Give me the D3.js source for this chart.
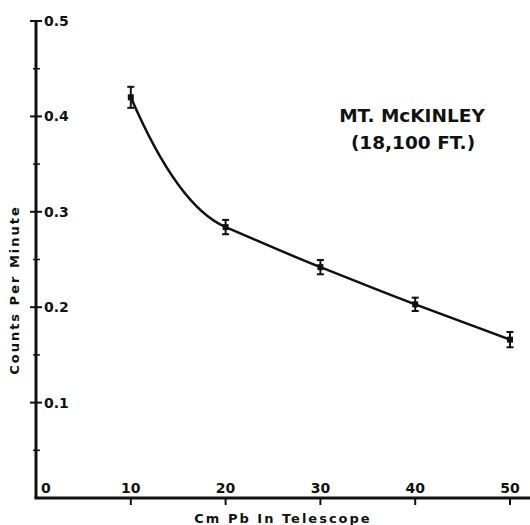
<!DOCTYPE html>
<meta charset="utf-8">
<style>
body { margin: 0; background: #fff; }
svg { display: block; }
text { font-family: "DejaVu Sans", sans-serif; font-weight: bold; fill: #111; }
</style>
<svg width="530" height="525"></svg>
<script src="https://d3js.org/d3.v7.min.js"></script>
<script>
// thickness of lead (cm) and measured rate
var thickness = [10, 20, 30, 40, 50];
var counts = [0.420, 0.284, 0.242, 0.203, 0.166];
var errors = [0.011, 0.0075, 0.0075, 0.007, 0.008];

var xTicks = [0, 10, 20, 30, 40, 50];
var yTicks = [0.1, 0.2, 0.3, 0.4, 0.5];
var yMinor = [0.05, 0.15, 0.25, 0.35, 0.45];

var svg = d3.select("svg");

var x = d3.scaleLinear().domain([0, 50]).range([36, 510]);
var y = d3.scaleLinear().domain([0, 0.5]).range([498, 21]);

// axes lines
svg.append("line")
  .attr("x1", x(0) - 1.5).attr("x2", 530)
  .attr("y1", y(0)).attr("y2", y(0))
  .attr("stroke", "#111").attr("stroke-width", 3);
svg.append("line")
  .attr("x1", x(0)).attr("x2", x(0))
  .attr("y1", y(0.5)).attr("y2", y(0))
  .attr("stroke", "#111").attr("stroke-width", 3);

// y ticks (cross the axis)
svg.selectAll(".ytick")
  .data(yTicks)
  .enter().append("line")
  .attr("x1", x(0) - 6).attr("x2", x(0) + 6)
  .attr("y1", function(d) { return y(d); })
  .attr("y2", function(d) { return y(d); })
  .attr("stroke", "#111").attr("stroke-width", 2);

svg.selectAll(".yminor")
  .data(yMinor)
  .enter().append("line")
  .attr("x1", x(0) - 3).attr("x2", x(0) + 4)
  .attr("y1", function(d) { return y(d); })
  .attr("y2", function(d) { return y(d); })
  .attr("stroke", "#111").attr("stroke-width", 1.5);

svg.selectAll(".ylab")
  .data(yTicks)
  .enter().append("text")
  .attr("x", x(0) + 8)
  .attr("y", function(d) { return y(d); })
  .attr("dy", "0.36em")
  .attr("font-size", 14)
  .text(function(d) { return d3.format(".1f")(d); });

// x ticks below axis
svg.selectAll(".xtick")
  .data(xTicks.slice(1))
  .enter().append("line")
  .attr("x1", function(d) { return x(d); })
  .attr("x2", function(d) { return x(d); })
  .attr("y1", y(0)).attr("y2", y(0) + 7)
  .attr("stroke", "#111").attr("stroke-width", 2);

svg.selectAll(".xlab")
  .data(xTicks)
  .enter().append("text")
  .attr("x", function(d) { return d == 0 ? x(0) + 5 : x(d); })
  .attr("y", y(0) - 5)
  .attr("text-anchor", function(d) { return d == 0 ? "start" : "middle"; })
  .attr("font-size", 14)
  .text(function(d) { return d; });

// axis titles
svg.append("text")
  .attr("x", 283).attr("y", 523)
  .attr("text-anchor", "middle")
  .attr("font-size", 13)
  .attr("letter-spacing", 2)
  .text("Cm Pb  In Telescope");

svg.append("text")
  .attr("transform", "translate(19,290) rotate(-90)")
  .attr("text-anchor", "middle")
  .attr("font-size", 13)
  .attr("letter-spacing", 2)
  .text("Counts  Per  Minute");

// label
svg.append("text")
  .attr("x", 412).attr("y", 122)
  .attr("text-anchor", "middle")
  .attr("font-size", 18.5)
  .text("MT. McKINLEY");
svg.append("text")
  .attr("x", 413).attr("y", 149)
  .attr("text-anchor", "middle")
  .attr("font-size", 18.5)
  .text("(18,100 FT.)");

var data = thickness.map(function(t, i) { return {t: t, c: counts[i], e: errors[i]}; });

// smooth hand-drawn style curve: cubic hermite, tangent at each point is the
// slope toward the next point, the first one chosen so the first span bends
var pts = data.map(function(d) { return [x(d.t), y(d.c)]; });
var sec = d3.range(pts.length - 1).map(function(i) {
  return (pts[i + 1][1] - pts[i][1]) / (pts[i + 1][0] - pts[i][0]);
});
var tan = pts.map(function(p, i) {
  if (i == 0) return 2 * sec[0] - sec[1];
  return i < sec.length ? sec[i] : sec[sec.length - 1];
});
var path = d3.path();
path.moveTo(pts[0][0], pts[0][1]);
for (var i = 0; i < pts.length - 1; i++) {
  var h = (pts[i + 1][0] - pts[i][0]) / 3;
  path.bezierCurveTo(pts[i][0] + h, pts[i][1] + tan[i] * h,
    pts[i + 1][0] - h, pts[i + 1][1] - tan[i + 1] * h,
    pts[i + 1][0], pts[i + 1][1]);
}

svg.append("path")
  .attr("d", path.toString())
  .attr("fill", "none")
  .attr("stroke", "#111")
  .attr("stroke-width", 2.5);

// error bars
var eb = svg.selectAll(".err")
  .data(data)
  .enter().append("g");

eb.append("line")
  .attr("x1", function(d) { return x(d.t); })
  .attr("x2", function(d) { return x(d.t); })
  .attr("y1", function(d) { return y(d.c + d.e); })
  .attr("y2", function(d) { return y(d.c - d.e); })
  .attr("stroke", "#111").attr("stroke-width", 2);

eb.selectAll(".cap")
  .data(function(d) { return [d.c + d.e, d.c - d.e].map(function(v) { return {t: d.t, v: v}; }); })
  .enter().append("line")
  .attr("x1", function(d) { return x(d.t) - 3.5; })
  .attr("x2", function(d) { return x(d.t) + 3.5; })
  .attr("y1", function(d) { return y(d.v); })
  .attr("y2", function(d) { return y(d.v); })
  .attr("stroke", "#111").attr("stroke-width", 2);

eb.append("rect")
  .attr("x", function(d) { return x(d.t) - 3; })
  .attr("y", function(d) { return y(d.c) - 3; })
  .attr("width", 6).attr("height", 6)
  .attr("fill", "#111");
</script>
